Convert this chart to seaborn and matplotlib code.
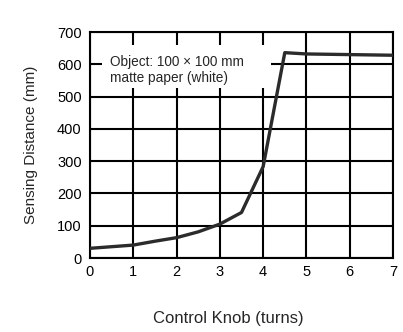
import matplotlib
matplotlib.use("Agg")
import matplotlib.pyplot as plt
import seaborn as sns
import pandas as pd
from matplotlib import font_manager

# Characteristic curve: sensing distance versus control-knob turns
turns = [0, 1, 1.5, 2, 2.5, 3, 3.5, 4, 4.5, 5, 6, 7]
distance_mm = [30, 40, 52, 63, 81, 105, 141, 283, 636, 632, 630, 628]
x_ticks = [0, 1, 2, 3, 4, 5, 6, 7]
y_ticks = [0, 100, 200, 300, 400, 500, 600, 700]

df = pd.DataFrame({"turns": turns, "distance": distance_mm})

sns.set_style("white")
names = {f.name for f in font_manager.fontManager.ttflist}
family = ["Liberation Sans Narrow", "DejaVu Sans"] if "Liberation Sans Narrow" in names else ["Liberation Sans", "DejaVu Sans"]
plt.rcParams["font.family"] = family

fig = plt.figure(figsize=(4.03, 3.32), dpi=100)
ax = fig.add_axes([90 / 403, 1 - 258 / 332, 303 / 403, 226 / 332])

sns.lineplot(data=df, x="turns", y="distance", ax=ax, color="#2b2b2b",
             linewidth=2.4, zorder=4)

ax.set_xlim(0, 7)
ax.set_ylim(0, 700)
ax.set_xticks(x_ticks)
ax.set_yticks(y_ticks)
ax.grid(True, color="black", linewidth=1.5)
ax.set_axisbelow(True)
for s in ax.spines.values():
    s.set_color("black")
    s.set_linewidth(1.5)
ax.tick_params(length=0, labelsize=10.5, colors="black")
ax.tick_params(axis="y", pad=6)
ax.tick_params(axis="x", pad=5)

ax.set_xlabel("Control Knob (turns)", fontsize=12)
ax.xaxis.set_label_coords(0.455, -0.235)
ax.set_ylabel("Sensing Distance (mm)", fontsize=11, labelpad=14)

# White patch behind the note so the grid does not cross the text
ax.add_patch(plt.Rectangle((0.28, 526), 3.9, 134, facecolor="white",
                           edgecolor="none", zorder=2))
ax.text(0.46, 582, "Object: 100 \u00d7 100 mm\nmatte paper (white)",
        fontsize=9.8, va="center", ha="left", linespacing=1.25, zorder=3)

fig.savefig("out.png", dpi=100)
